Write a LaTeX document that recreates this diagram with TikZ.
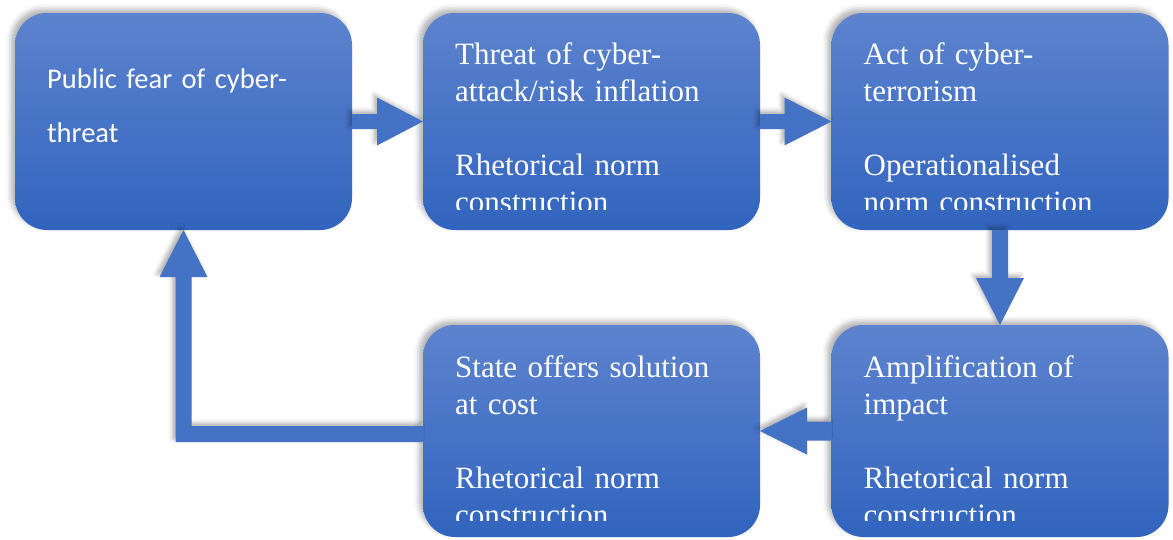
\documentclass[tikz,border=0pt]{standalone}
\usepackage{fontspec}
\setmainfont{Liberation Serif}
\newfontfamily\calfont{Carlito}
\usetikzlibrary{calc,shadows.blur}
\definecolor{boxtop}{RGB}{93,131,206}
\definecolor{boxbot}{RGB}{49,100,190}
\definecolor{arrowc}{RGB}{68,114,196}
\begin{document}
\begin{tikzpicture}[x=1pt,y=-1pt,
  box/.style={rounded corners=32pt, top color=boxtop, bottom color=boxbot,
    minimum width=337pt, inner sep=0pt, outer sep=0pt,
    blur shadow={shadow xshift=-4pt, shadow yshift=4pt, shadow blur radius=5pt, shadow opacity=30}},
  serif/.style={text=white, anchor=base west, inner sep=0pt, text width=300pt, align=left,
    font=\fontsize{31}{37}\selectfont},
  sans/.style={text=white, anchor=base west, inner sep=0pt, text width=300pt, align=left,
    font=\calfont\fontsize{28.5}{54}\selectfont},
  arr/.style={fill=arrowc,
    blur shadow={shadow xshift=-3pt, shadow yshift=3pt, shadow blur radius=4pt, shadow opacity=30}}]
\useasboundingbox (0,0) rectangle (1173,539);

% boxes
\node[box, minimum height=217pt] (b1) at (183.5,121.5) {};
\node[box, minimum height=217pt] (b2) at (591.5,121.5) {};
\node[box, minimum height=217pt] (b3) at (1000,121.5) {};
\node[box, minimum height=212pt] (b4) at (591.5,431) {};
\node[box, minimum height=212pt] (b5) at (1000,431) {};

% texts
\node[sans] (t1) at ($(b1.north west)+(32,75)$) {Public fear of cyber-\\threat};
\begin{scope}
  \clip (b2.north west) rectangle ($(b2.south east)+(0,-21)$);
  \node[serif] (t2) at ($(b2.north west)+(32,51)$) {Threat of cyber-\\attack/risk inflation\\[37pt]Rhetorical norm\\construction};
\end{scope}
\begin{scope}
  \clip (b3.north west) rectangle ($(b3.south east)+(0,-21)$);
  \node[serif] (t3) at ($(b3.north west)+(32,51)$) {Act of cyber-\\terrorism\\[37pt]Operationalised\\norm construction};
\end{scope}
\begin{scope}
  \clip (b4.north west) rectangle ($(b4.south east)+(0,-17)$);
  \node[serif] (t4) at ($(b4.north west)+(32,52)$) {State offers solution\\at cost\\[37pt]Rhetorical norm\\construction};
\end{scope}
\begin{scope}
  \clip (b5.north west) rectangle ($(b5.south east)+(0,-17)$);
  \node[serif] (t5) at ($(b5.north west)+(32,52)$) {Amplification of\\impact\\[37pt]Rhetorical norm\\construction};
\end{scope}

% arrows
\fill[arr] ($(b1.east)+(0,-7.5)$) -- ($(b2.west)+(-46,-7.5)$) -- ($(b2.west)+(-46,-24)$) -- (b2.west)
  -- ($(b2.west)+(-46,24)$) -- ($(b2.west)+(-46,7.5)$) -- ($(b1.east)+(0,7.5)$) -- cycle;
\fill[arr] ($(b2.east)+(0,-7.5)$) -- ($(b3.west)+(-47,-7.5)$) -- ($(b3.west)+(-47,-24)$) -- (b3.west)
  -- ($(b3.west)+(-47,24)$) -- ($(b3.west)+(-47,7.5)$) -- ($(b2.east)+(0,7.5)$) -- cycle;
\fill[arr] ($(b3.south)+(-8,0)$) -- ($(b5.north)+(-8,-47)$) -- ($(b5.north)+(-24,-47)$) -- (b5.north)
  -- ($(b5.north)+(24,-47)$) -- ($(b5.north)+(8,-47)$) -- ($(b3.south)+(8,0)$) -- cycle;
\fill[arr] ($(b5.west)+(0,-9.5)$) -- ($(b4.east)+(47,-9.5)$) -- ($(b4.east)+(47,-23.5)$) -- (b4.east)
  -- ($(b4.east)+(47,23.5)$) -- ($(b4.east)+(47,9.5)$) -- ($(b5.west)+(0,9.5)$) -- cycle;
\coordinate (elb) at ($(b1.south |- b4.west)+(0,3)$);
\fill[arr] ($(b4.west)+(0,-5)$) -- ($(elb)+(8,-8)$) -- ($(b1.south)+(8,47)$) -- ($(b1.south)+(24,47)$)
  -- (b1.south) -- ($(b1.south)+(-24,47)$) -- ($(b1.south)+(-8,47)$) -- ($(elb)+(-8,8)$)
  -- ($(b4.west)+(0,11)$) -- cycle;
\end{tikzpicture}
\end{document}
